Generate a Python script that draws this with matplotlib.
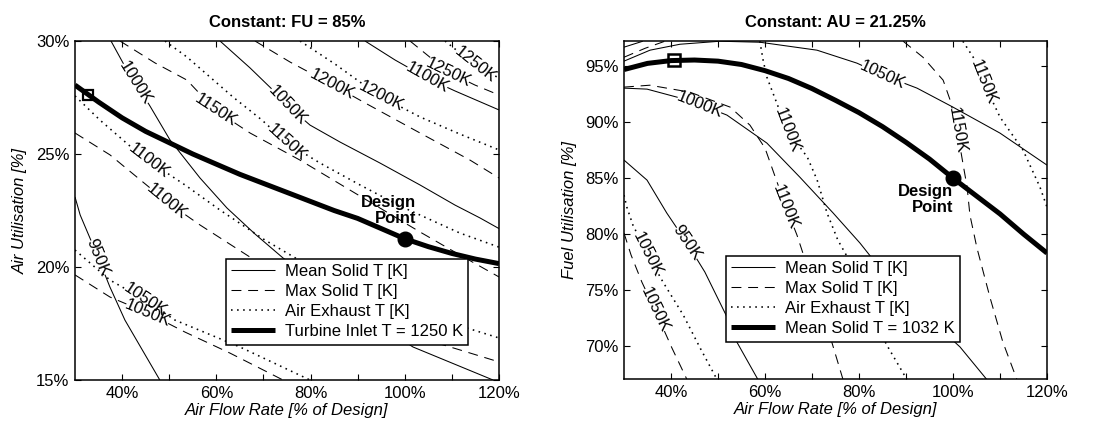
import numpy as np
import matplotlib
matplotlib.use("Agg")
import matplotlib.pyplot as plt
from matplotlib.lines import Line2D
from matplotlib.ticker import FixedLocator, FuncFormatter

plt.rcParams['font.family'] = ['Liberation Sans', 'DejaVu Sans']
plt.rcParams['font.size'] = 12

# ------------------------------------------------------------------
# Left panel: constant fuel utilisation (FU = 85 %)
# x = air flow rate [% of design], y = air utilisation [%]
# ------------------------------------------------------------------
fu_turbine_1250 = ([30, 33, 35, 40, 45, 50, 55, 60, 65, 70, 75, 80, 85, 90, 95, 100, 105, 110, 115, 120],
                   [28.05, 27.6, 27.3, 26.6, 26.0, 25.5, 25.0, 24.55, 24.1, 23.7, 23.3, 22.9, 22.5,
                    22.15, 21.7, 21.25, 20.9, 20.6, 20.35, 20.15])
fu_start = (32.8, 27.6)
fu_design = (100, 21.25)

fu_mean_950 = ([30, 31.1, 34.7, 37.4, 40.6, 44.9, 48.0],
               [23.10, 22.30, 20.53, 19.12, 17.65, 16.11, 15.0])
fu_mean_1000 = ([37.64, 40.19, 45.92, 50.17, 56.53, 62.26, 68.21, 74.15, 86.25, 101.75, 118.73],
                [30.0, 29.03, 27.12, 25.62, 23.94, 22.61, 21.46, 20.40, 18.54, 16.46, 15.0])
fu_mean_1050 = ([60.78, 67.15, 72.45, 75.64, 79.88, 86.25, 94.74, 103.23, 110.66, 115.97, 120.0],
                [30.0, 28.81, 27.74, 27.04, 26.28, 25.53, 24.60, 23.63, 22.74, 22.17, 21.7])
fu_mean_1100 = ([91.56, 97.93, 104.72, 110.66, 120.0],
                [30.0, 29.16, 28.36, 27.79, 26.95])

fu_max_1050 = ([30, 37.43, 45.5, 53.35, 62.9, 74.15],
               [19.65, 18.67, 17.96, 17.12, 16.19, 15.0])
fu_max_1100 = ([30, 37.43, 49.53, 56.53, 71.39, 88.37, 103.23, 111.72, 120.0],
               [25.93, 24.96, 22.88, 21.86, 19.87, 18.01, 16.86, 16.33, 15.80])
fu_max_1150 = ([39.55, 46.98, 53.77, 59.72, 67.15, 77.76, 89.44, 103.23, 111.72, 120.0],
               [30.0, 29.03, 28.27, 26.95, 25.93, 24.73, 23.27, 21.55, 20.53, 19.56])
fu_max_1200 = ([68.21, 75.64, 84.77, 91.56, 103.23, 113.85, 120.0],
               [30.0, 29.07, 28.05, 27.26, 25.93, 24.73, 23.94])
fu_max_1250 = ([101.11, 109.18, 114.91, 120.0],
               [30.0, 28.63, 28.05, 27.61])

fu_exh_1050 = ([30, 37.43, 44.86, 51.23, 65.02, 79.88],
               [20.75, 19.42, 18.54, 17.65, 16.46, 15.0])
fu_exh_1100 = ([30, 35.3, 41.67, 46.34, 53.35, 60.78, 70.33, 88.37, 103.23, 113.21, 120.0],
               [27.57, 26.5, 25.35, 24.60, 23.63, 22.52, 21.19, 18.98, 17.65, 17.30, 16.86])
fu_exh_1150 = ([49.10, 53.77, 63.54, 69.69, 75.0, 82.01, 90.50, 99.0, 103.23, 111.72, 120.0],
               [30.0, 29.29, 27.52, 26.50, 25.49, 24.60, 23.63, 22.7, 22.30, 21.50, 20.88])
fu_exh_1200 = ([77.76, 85.19, 94.32, 103.23, 111.72, 120.0],
               [30.0, 28.98, 27.61, 26.64, 25.88, 25.18])
fu_exh_1250 = ([108.54, 114.91, 120.0],
               [30.0, 28.94, 28.36])

# label anchor points (snapped onto their line when drawn)
fu_labels = {
    'mean_950': (34.7, 20.40), 'mean_1000': (41.9, 28.0), 'mean_1050': (75.2, 27.17),
    'mean_1100': (104.7, 28.36),
    'max_1050': (45.5, 18.01), 'max_1100': (49.5, 22.88), 'max_1150': (59.7, 26.86),
    'max_1200': (84.8, 28.14), 'max_1250': (109.2, 28.63),
    'exh_1050': (44.9, 18.54), 'exh_1100': (45.5, 24.60), 'exh_1150': (75.0, 25.49),
    'exh_1200': (94.3, 27.30), 'exh_1250': (114.9, 28.94),
}

# ------------------------------------------------------------------
# Right panel: constant air utilisation (AU = 21.25 %)
# x = air flow rate [% of design], y = fuel utilisation [%]
# ------------------------------------------------------------------
au_mean_1032 = ([30, 35, 40, 45, 50, 55, 60, 65, 70, 75, 80, 85, 90, 95, 100, 105, 110, 115, 120],
                [94.7, 95.25, 95.5, 95.55, 95.45, 95.15, 94.6, 93.9, 93.0, 91.95, 90.85, 89.6, 88.2,
                 86.7, 85.0, 83.4, 81.8, 80.0, 78.3])
au_start = (40.6, 95.54)
au_design = (100, 85.0)

au_mean_950 = ([30, 34.9, 39.1, 43.4, 47.2, 51.7, 54.0, 58.5],
               [86.61, 84.82, 81.88, 79.2, 76.61, 72.77, 70.36, 67.0])
au_mean_1000 = ([30, 34.9, 41.3, 45.5, 51.9, 60.4, 67.4, 74.5, 80.2, 85.1, 93.0, 101.5, 107.2],
                [93.04, 92.95, 92.23, 91.70, 90.63, 88.13, 85.09, 81.88, 79.20, 76.61, 73.21, 69.91, 67.0])
au_mean_1050 = ([30, 35.53, 41.91, 50.43, 58.94, 71.06, 79.57, 85.11, 92.34, 100.0, 110.0, 120.0],
                [95.45, 96.43, 96.96, 97.23, 97.14, 96.43, 95.27, 94.20, 93.04, 91.34, 89.02, 86.16])
au_mean_1100 = ([30, 34.0],
                [96.7, 97.23])

au_max_1050 = ([30, 31.5, 33.8, 36.6, 40.2, 43.4],
               [80.09, 78.13, 75.71, 73.21, 69.82, 67.0])
au_max_1100 = ([30, 35.5, 44.0, 52.6, 56.8, 60.0, 64.3, 66.8, 69.6, 72.8, 76.6],
               [93.13, 93.30, 92.68, 91.34, 89.73, 87.68, 82.59, 79.91, 76.34, 72.32, 67.0])
au_max_1150 = ([89.4, 93.6, 97.9, 99.4, 100.9, 102.1, 103.0, 103.6, 105.1, 107.9, 110.6, 113.6],
               [97.23, 95.80, 93.75, 91.96, 89.29, 86.34, 84.20, 81.70, 78.75, 74.29, 70.36, 67.0])
au_max_1150b = ([30, 34.5, 38.7],
                [95.8, 96.6, 97.23])

au_exh_1050 = ([30, 30.6, 31.9, 35.1, 38.3, 42.6, 46.2, 49.8],
               [83.48, 82.41, 80.80, 78.13, 75.71, 72.77, 69.82, 67.0])
au_exh_1100 = ([58.9, 59.6, 60.4, 64.7, 69.0, 71.1, 73.2, 75.5, 77.4, 81.2, 85.9, 90.2],
               [97.23, 95.54, 94.02, 89.29, 86.88, 84.82, 81.88, 79.46, 78.04, 74.11, 70.09, 67.0])
au_exh_1150 = ([102.1, 104.7, 106.8, 110.0, 114.9, 118.5, 120.0],
               [97.23, 95.54, 93.30, 90.45, 87.50, 84.20, 82.41])

au_labels = {
    'mean_950': (43.4, 79.20), 'mean_1000': (46.2, 91.70), 'mean_1050': (85.1, 94.20),
    'max_1050': (36.6, 73.21), 'max_1100': (64.3, 82.41), 'max_1150': (101.1, 89.29),
    'exh_1050': (34.7, 78.13), 'exh_1100': (64.7, 89.29), 'exh_1150': (106.2, 93.48),
}

# ------------------------------------------------------------------
STYLES = {
    'mean': dict(color='k', lw=0.75, solid_capstyle='butt'),
    'max': dict(color='k', lw=0.75, dashes=(9.5, 6.5)),
    'exh': dict(color='k', lw=1.15, dashes=(1.0, 2.8)),
}


def _point_at(P, s, t):
    t = min(max(t, 0.0), s[-1])
    i = int(np.searchsorted(s, t, side='right') - 1)
    i = min(max(i, 0), len(s) - 2)
    seg = s[i + 1] - s[i]
    f = 0.0 if seg == 0 else (t - s[i]) / seg
    return P[i] + f * (P[i + 1] - P[i])


def _sub_line(P, s, a, b):
    a = max(a, 0.0)
    b = min(b, s[-1])
    if b - a <= 0.5:
        return None
    inner = P[(s > a) & (s < b)]
    return np.vstack([_point_at(P, s, a), inner, _point_at(P, s, b)])


def contour_line(ax, fig, line, kind, text=None, anchor=None):
    xs, ys = line
    style = STYLES[kind]
    to_disp = ax.transData
    to_data = ax.transData.inverted()
    P = to_disp.transform(np.column_stack([xs, ys]))
    seglen = np.hypot(*np.diff(P, axis=0).T)
    s = np.concatenate([[0.0], np.cumsum(seglen)])
    if text is None:
        ax.plot(xs, ys, **style)
        return
    # project the label anchor onto the polyline
    A = to_disp.transform([anchor])[0]
    best = (np.inf, 0, 0.0)
    for i in range(len(P) - 1):
        d = P[i + 1] - P[i]
        L2 = float(d @ d)
        f = 0.0 if L2 == 0 else float(np.clip((A - P[i]) @ d / L2, 0, 1))
        q = P[i] + f * d
        dist = float(np.hypot(*(A - q)))
        if dist < best[0]:
            best = (dist, i, f)
    _, i, f = best
    s0 = s[i] + f * seglen[i]
    q = P[i] + f * (P[i + 1] - P[i])
    d = P[i + 1] - P[i]
    ang = np.degrees(np.arctan2(d[1], d[0]))
    if ang > 90:
        ang -= 180
    if ang < -90:
        ang += 180
    qd = to_data.transform([q])[0]
    t = ax.text(qd[0], qd[1], text, ha='center', va='center', fontsize=12,
                rotation_mode='anchor', clip_on=False, zorder=4)
    w = t.get_window_extent(fig.canvas.get_renderer()).width
    t.set_rotation(ang)
    gap = w / 2.0 - 1.0
    for a, b in ((0.0, s0 - gap), (s0 + gap, s[-1])):
        seg = _sub_line(P, s, a, b)
        if seg is not None:
            dd = to_data.transform(seg)
            ax.plot(dd[:, 0], dd[:, 1], **style)


def pct(v, _):
    return f"{v:g}%"


fig = plt.figure(figsize=(11.01, 4.30), dpi=100)
axL = fig.add_axes([75 / 1101, 1 - 380 / 430, 424 / 1101, 339 / 430])
axR = fig.add_axes([624 / 1101, 1 - 379 / 430, 423 / 1101, 338 / 430])

axL.set_xlim(30, 120)
axL.set_ylim(15, 30)
axR.set_xlim(30, 120)
axR.set_ylim(67.05, 97.25)

for ax in (axL, axR):
    ax.xaxis.set_major_locator(FixedLocator([40, 60, 80, 100, 120]))
    ax.xaxis.set_minor_locator(FixedLocator([50, 70, 90, 110]))
    ax.xaxis.set_major_formatter(FuncFormatter(pct))
    ax.yaxis.set_major_formatter(FuncFormatter(pct))
    ax.tick_params(which='both', direction='in', top=True, right=True, length=4.5, width=0.8,
                   labelsize=12, pad=4)
    for sp in ax.spines.values():
        sp.set_linewidth(1.1)
    ax.set_xlabel('Air Flow Rate [% of Design]', style='italic', fontsize=12, labelpad=2)

axL.yaxis.set_major_locator(FixedLocator([15, 20, 25, 30]))
axR.yaxis.set_major_locator(FixedLocator([70, 75, 80, 85, 90, 95]))
axL.set_ylabel('Air Utilisation [%]', style='italic', fontsize=12, labelpad=6)
axR.set_ylabel('Fuel Utilisation [%]', style='italic', fontsize=12, labelpad=6)
axL.set_title('Constant: FU = 85%', fontweight='bold', fontsize=12, pad=10)
axR.set_title('Constant: AU = 21.25%', fontweight='bold', fontsize=12, pad=10)

# ---- left panel contours ----
left_set = [
    (fu_mean_950, 'mean', '950K', 'mean_950'), (fu_mean_1000, 'mean', '1000K', 'mean_1000'),
    (fu_mean_1050, 'mean', '1050K', 'mean_1050'), (fu_mean_1100, 'mean', '1100K', 'mean_1100'),
    (fu_max_1050, 'max', '1050K', 'max_1050'), (fu_max_1100, 'max', '1100K', 'max_1100'),
    (fu_max_1150, 'max', '1150K', 'max_1150'), (fu_max_1200, 'max', '1200K', 'max_1200'),
    (fu_max_1250, 'max', '1250K', 'max_1250'),
    (fu_exh_1050, 'exh', '1050K', 'exh_1050'), (fu_exh_1100, 'exh', '1100K', 'exh_1100'),
    (fu_exh_1150, 'exh', '1150K', 'exh_1150'), (fu_exh_1200, 'exh', '1200K', 'exh_1200'),
    (fu_exh_1250, 'exh', '1250K', 'exh_1250'),
]
for line, kind, txt, key in left_set:
    contour_line(axL, fig, line, kind, txt, fu_labels[key])
axL.plot(*fu_turbine_1250, color='k', lw=3.6, solid_capstyle='butt', zorder=3)
axL.plot(*fu_start, marker='s', ms=7.5, mfc='none', mec='k', mew=1.6, zorder=5)
axL.plot(*fu_design, marker='o', ms=10.5, color='k', zorder=5)
axL.text(102.4, 22.5, 'Design\nPoint', ha='right', va='center', multialignment='right',
         fontweight='bold', fontsize=12, linespacing=1.05, zorder=6)

# ---- right panel contours ----
right_set = [
    (au_mean_950, 'mean', '950K', 'mean_950'), (au_mean_1000, 'mean', '1000K', 'mean_1000'),
    (au_mean_1050, 'mean', '1050K', 'mean_1050'),
    (au_max_1050, 'max', '1050K', 'max_1050'), (au_max_1100, 'max', '1100K', 'max_1100'),
    (au_max_1150, 'max', '1150K', 'max_1150'),
    (au_exh_1050, 'exh', '1050K', 'exh_1050'), (au_exh_1100, 'exh', '1100K', 'exh_1100'),
    (au_exh_1150, 'exh', '1150K', 'exh_1150'),
]
for line, kind, txt, key in right_set:
    contour_line(axR, fig, line, kind, txt, au_labels[key])
contour_line(axR, fig, au_mean_1100, 'mean')
contour_line(axR, fig, au_max_1150b, 'max')
axR.plot(*au_mean_1032, color='k', lw=3.6, solid_capstyle='butt', zorder=3)
axR.plot(*au_start, marker='s', ms=8.5, mfc='none', mec='k', mew=1.8, zorder=5)
axR.plot(*au_design, marker='o', ms=10.5, color='k', zorder=5)
axR.text(100.0, 83.1, 'Design\nPoint', ha='right', va='center', multialignment='right',
         fontweight='bold', fontsize=12, linespacing=1.05, zorder=6)

# ---- legends ----
def legend_handles(thick_label):
    return [
        Line2D([], [], **STYLES['mean']),
        Line2D([], [], **STYLES['max']),
        Line2D([], [], **STYLES['exh']),
        Line2D([], [], color='k', lw=3.6, solid_capstyle='butt'),
    ], ['Mean Solid T [K]', 'Max Solid T [K]', 'Air Exhaust T [K]', thick_label]


for ax, lbl, anchor in ((axL, 'Turbine Inlet T = 1250 K', (0.356, 0.357)),
                        (axR, 'Mean Solid T = 1032 K', (0.241, 0.364))):
    h, l = legend_handles(lbl)
    leg = ax.legend(h, l, loc='upper left', bbox_to_anchor=anchor, borderaxespad=0,
                    fontsize=12, frameon=True, fancybox=False, framealpha=1,
                    edgecolor='k', handlelength=2.6, handletextpad=0.6,
                    labelspacing=0.3, borderpad=0.32)
    leg.get_frame().set_linewidth(1.1)
    leg.set_zorder(10)

fig.savefig('out.png', dpi=100)
